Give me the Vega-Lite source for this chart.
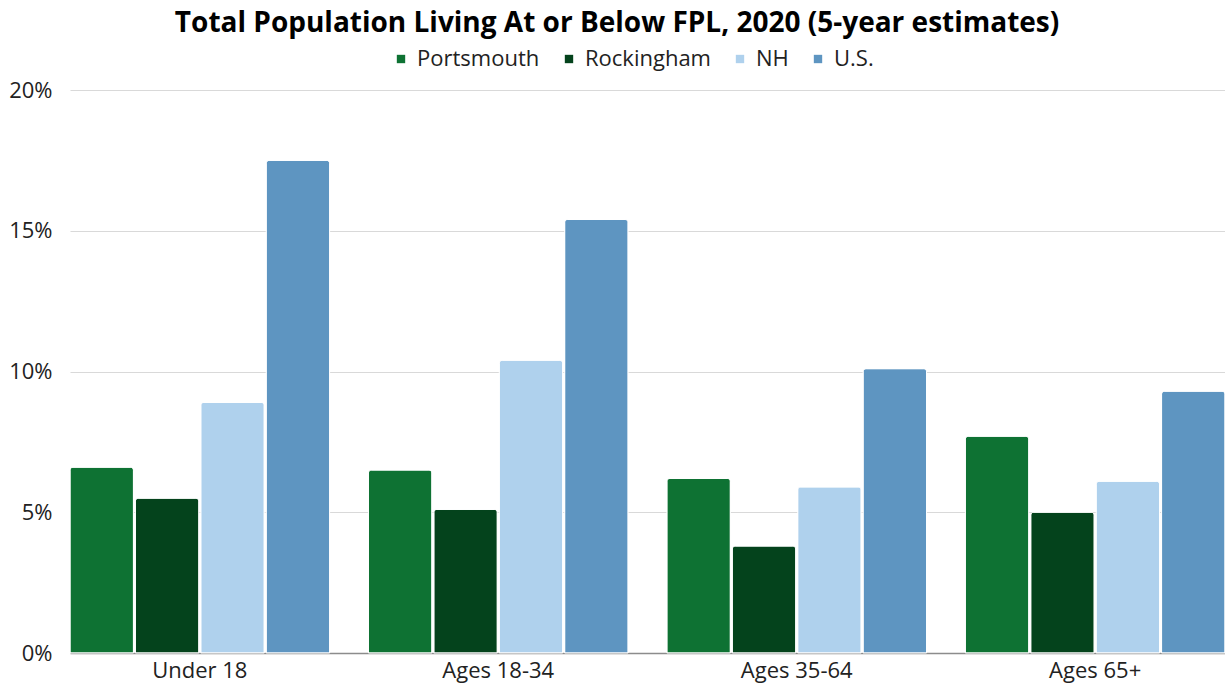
{
  "$schema": "https://vega.github.io/schema/vega-lite/v6.json",
  "width": 1155,
  "height": 563,
  "autosize": {"type": "none"},
  "padding": {"left": 70, "top": 90, "right": 0, "bottom": 39},
  "background": "white",
  "config": {"view": {"stroke": null}},
  "title": {
    "text": "Total Population Living At or Below FPL, 2020 (5-year estimates)",
    "font": "Open Sans",
    "fontSize": 28,
    "fontWeight": "bold",
    "color": "#000000",
    "anchor": "middle",
    "frame": "bounds",
    "offset": 10
  },
  "data": {
    "values": [
      {"age": "Under 18", "area": "Portsmouth", "pct": 6.6},
      {"age": "Under 18", "area": "Rockingham", "pct": 5.5},
      {"age": "Under 18", "area": "NH", "pct": 8.9},
      {"age": "Under 18", "area": "U.S.", "pct": 17.5},
      {"age": "Ages 18-34", "area": "Portsmouth", "pct": 6.5},
      {"age": "Ages 18-34", "area": "Rockingham", "pct": 5.1},
      {"age": "Ages 18-34", "area": "NH", "pct": 10.4},
      {"age": "Ages 18-34", "area": "U.S.", "pct": 15.4},
      {"age": "Ages 35-64", "area": "Portsmouth", "pct": 6.2},
      {"age": "Ages 35-64", "area": "Rockingham", "pct": 3.8},
      {"age": "Ages 35-64", "area": "NH", "pct": 5.9},
      {"age": "Ages 35-64", "area": "U.S.", "pct": 10.1},
      {"age": "Ages 65+", "area": "Portsmouth", "pct": 7.7},
      {"age": "Ages 65+", "area": "Rockingham", "pct": 5.0},
      {"age": "Ages 65+", "area": "NH", "pct": 6.1},
      {"age": "Ages 65+", "area": "U.S.", "pct": 9.3}
    ]
  },
  "mark": {"type": "bar", "cornerRadiusTopLeft": 3, "cornerRadiusTopRight": 3, "stroke": "white", "strokeWidth": 1},
  "encoding": {
    "x": {
      "field": "age",
      "type": "nominal",
      "sort": ["Under 18", "Ages 18-34", "Ages 35-64", "Ages 65+"],
      "scale": {"paddingInner": 0.13, "paddingOuter": 0},
      "axis": {
        "title": null,
        "labelAngle": 0,
        "labelFont": "Open Sans",
        "labelFontSize": 22,
        "labelColor": "#222222",
        "labelPadding": 7,
        "ticks": false,
        "domainColor": "#8c8c8c",
        "domainWidth": 1.5
      }
    },
    "xOffset": {
      "field": "area",
      "type": "nominal",
      "sort": ["Portsmouth", "Rockingham", "NH", "U.S."],
      "scale": {"paddingInner": 0.03, "paddingOuter": 0}
    },
    "y": {
      "field": "pct",
      "type": "quantitative",
      "scale": {"domain": [0, 20]},
      "axis": {
        "title": null,
        "values": [0, 5, 10, 15, 20],
        "labelExpr": "datum.value + '%'",
        "labelFont": "Open Sans",
        "labelFontSize": 22,
        "labelColor": "#222222",
        "labelPadding": 18,
        "ticks": false,
        "domain": false,
        "gridColor": "#d9d9d9",
        "gridWidth": 1
      }
    },
    "color": {
      "field": "area",
      "type": "nominal",
      "sort": ["Portsmouth", "Rockingham", "NH", "U.S."],
      "scale": {
        "domain": ["Portsmouth", "Rockingham", "NH", "U.S."],
        "range": ["#0E7233", "#04431C", "#AFD1ED", "#5E95C1"]
      },
      "legend": {
        "title": null,
        "orient": "none",
        "direction": "horizontal",
        "legendX": 320,
        "legendY": -42,
        "symbolType": "square",
        "symbolSize": 70,
        "symbolStrokeWidth": 0,
        "labelFont": "Open Sans",
        "labelFontSize": 22,
        "labelColor": "#222222",
        "labelOffset": 5,
        "columnPadding": 18
      }
    }
  }
}
